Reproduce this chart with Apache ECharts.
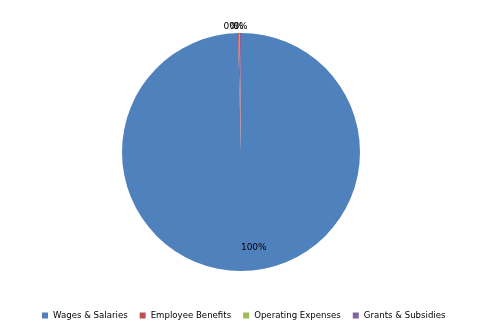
<!DOCTYPE html>
<html><head><meta charset="utf-8">
<script src="https://cdn.jsdelivr.net/npm/echarts@6/dist/echarts.min.js"></script>
<style>html,body{margin:0;padding:0;background:#fff}#c{width:482px;height:335px}</style>
</head><body><div id="c"></div>
<script>
const categories = ["Wages & Salaries", "Employee Benefits", "Operating Expenses", "Grants & Subsidies"];
const values = [99.6, 0.2, 0.05, 0.15];
const colors = ["#4F81BD", "#C0504D", "#9BBB59", "#8064A2"];

const chart = echarts.init(document.getElementById('c'), null, {renderer: 'canvas'});
chart.setOption({
  animation: false,
  legend: {
    bottom: 10,
    left: 37,
    itemWidth: 6, itemHeight: 6, itemGap: 12,
    icon: 'rect',
    textStyle: {fontFamily: 'DejaVu Sans', fontSize: 8.6, color: '#000'},
    data: categories
  },
  series: [{
    type: 'pie',
    center: [241, 152],
    radius: 119,
    startAngle: 90,
    clockwise: true,
    avoidLabelOverlap: false,
    itemStyle: {borderWidth: 0},
    label: {
      show: true, position: 'outside',
      formatter: p => Math.round(p.percent) + '%',
      fontFamily: 'DejaVu Sans', fontSize: 9, color: '#000'
    },
    labelLine: {show: false, length: 2, length2: 0},
    labelLayout: function (p) {
      if (p.dataIndex === 0) return {dy: 33, dx: 12};
      const shifts = [0, 4, 9, 12];
      return {dx: shifts[p.dataIndex], dy: -4};
    },
    data: categories.map((c, i) => ({
      name: c, value: values[i], itemStyle: {color: colors[i]},
      label: i === 0 ? {position: 'inside'} : undefined
    }))
  }]
});
</script></body></html>
